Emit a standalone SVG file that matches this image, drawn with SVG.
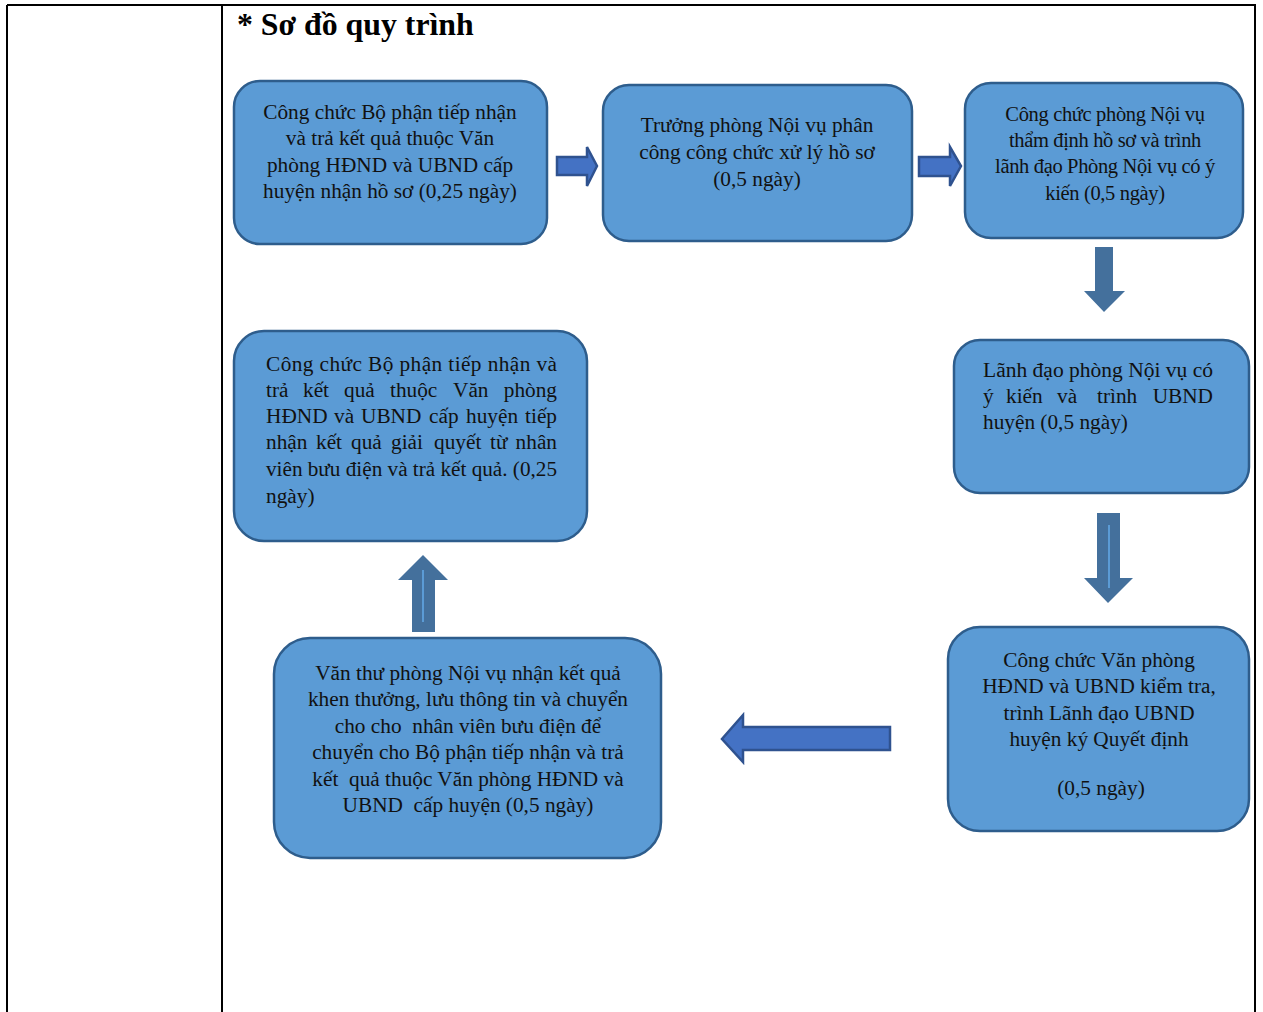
<svg xmlns="http://www.w3.org/2000/svg" width="1263" height="1012" viewBox="0 0 1263 1012">
<style>
.box{fill:#5b9bd5;stroke:#2e5d8c;stroke-width:2.5}
.t{font-family:"Liberation Serif","Times New Roman",serif;font-size:21.3px;fill:#111}
.c{text-anchor:middle}
.rarrow{fill:#4472c4;stroke:#2f528f;stroke-width:2.5}
.varrow{fill:#44709c}
.hl{stroke:#5b9bd5;stroke-width:2}
.grid{stroke:#000;stroke-width:2;fill:none}
</style>
<rect width="1263" height="1012" fill="#fff"/>
<g id="table">
<line class="grid" x1="7" y1="5" x2="1256" y2="5"/>
<line class="grid" x1="7" y1="5" x2="7" y2="1012"/>
<line class="grid" x1="222" y1="5" x2="222" y2="1012"/>
<line class="grid" x1="1255" y1="5" x2="1255" y2="1012"/>
</g>
<text x="237" y="35" font-family="Liberation Serif,serif" font-size="31.8" font-weight="bold">* Sơ đồ quy trình</text>
<g id="connectors">
<polygon class="rarrow" points="557,157 587,157 587,147 597,166 587,186 587,175 557,175"/>
<polygon class="rarrow" points="919,157 950,157 950,147 961,166 950,186 950,176 919,176"/>
<polygon class="varrow" points="1095,247 1113,247 1113,291 1125,291 1104,312 1084,291 1095,291"/>
<polygon class="varrow" points="1097,513 1120,513 1120,578 1133,578 1108,603 1084,578 1097,578"/>
<line class="hl" x1="1109" y1="525" x2="1109" y2="588"/>
<polygon class="varrow" points="412,632 435,632 435,580 448,580 423,555 398,580 412,580"/>
<line class="hl" x1="423" y1="570" x2="423" y2="622"/>
<polygon class="rarrow" points="890,727 743,727 743,715 722,739 743,762 743,750 890,750"/>
</g>
<g id="n1">
<rect class="box" x="234" y="81" width="313" height="163" rx="26"/>
<text class="t c"><tspan x="390" y="119">Công chức Bộ phận tiếp nhận</tspan><tspan x="390" y="145">và trả kết quả thuộc Văn</tspan><tspan x="390" y="172">phòng HĐND và UBND cấp</tspan><tspan x="390" y="198">huyện nhận hồ sơ (0,25 ngày)</tspan></text>
</g>
<g id="n2">
<rect class="box" x="603" y="85" width="309" height="156" rx="26"/>
<text class="t c"><tspan x="757" y="132">Trưởng phòng Nội vụ phân</tspan><tspan x="757" y="159">công công chức xử lý hồ sơ</tspan><tspan x="757" y="186">(0,5 ngày)</tspan></text>
</g>
<g id="n3">
<rect class="box" x="965" y="83" width="278" height="155" rx="26"/>
<text class="t c" style="font-size:20.5px" letter-spacing="-0.35"><tspan x="1105" y="121">Công chức phòng Nội vụ</tspan><tspan x="1105" y="147">thẩm định hồ sơ và trình</tspan><tspan x="1105" y="173">lãnh đạo Phòng Nội vụ có ý</tspan><tspan x="1105" y="200">kiến (0,5 ngày)</tspan></text>
</g>
<g id="n4">
<rect class="box" x="234" y="331" width="353" height="210" rx="30"/>
<text class="t"><tspan x="266" y="371" textLength="291" lengthAdjust="spacing">Công chức Bộ phận tiếp nhận và</tspan></text>
<text class="t"><tspan x="266" y="397">trả</tspan><tspan x="303" y="397">kết</tspan><tspan x="344" y="397">quả</tspan><tspan x="390" y="397">thuộc</tspan><tspan x="453" y="397">Văn</tspan><tspan x="557" y="397" text-anchor="end">phòng</tspan></text>
<text class="t"><tspan x="266" y="423">HĐND</tspan><tspan x="334" y="423">và</tspan><tspan x="361" y="423">UBND</tspan><tspan x="429" y="423">cấp</tspan><tspan x="466" y="423">huyện</tspan><tspan x="557" y="423" text-anchor="end">tiếp</tspan></text>
<text class="t"><tspan x="266" y="449">nhận</tspan><tspan x="316" y="449">kết</tspan><tspan x="351" y="449">quả</tspan><tspan x="391" y="449">giải</tspan><tspan x="434" y="449">quyết</tspan><tspan x="490" y="449">từ</tspan><tspan x="557" y="449" text-anchor="end">nhân</tspan></text>
<text class="t"><tspan x="266" y="476" textLength="291" lengthAdjust="spacingAndGlyphs">viên bưu điện và trả kết quả. (0,25</tspan><tspan x="266" y="503">ngày)</tspan></text>
</g>
<g id="n5">
<rect class="box" x="954" y="340" width="295" height="153" rx="26"/>
<text class="t"><tspan x="983" y="377" textLength="230" lengthAdjust="spacingAndGlyphs">Lãnh đạo phòng Nội vụ có</tspan></text>
<text class="t"><tspan x="983" y="403">ý</tspan><tspan x="1006" y="403">kiến</tspan><tspan x="1057" y="403">và</tspan><tspan x="1097" y="403">trình</tspan><tspan x="1213" y="403" text-anchor="end">UBND</tspan></text>
<text class="t"><tspan x="983" y="429">huyện (0,5 ngày)</tspan></text>
</g>
<g id="n6">
<rect class="box" x="948" y="627" width="301" height="204" rx="32"/>
<text class="t c"><tspan x="1099" y="667">Công chức Văn phòng</tspan><tspan x="1099" y="693">HĐND và UBND kiểm tra,</tspan><tspan x="1099" y="720">trình Lãnh đạo UBND</tspan><tspan x="1099" y="746">huyện ký Quyết định</tspan><tspan x="1101" y="795">(0,5 ngày)</tspan></text>
</g>
<g id="n7">
<rect class="box" x="274" y="638" width="387" height="220" rx="36"/>
<text class="t c" style="white-space:pre"><tspan x="468" y="680">Văn thư phòng Nội vụ nhận kết quả</tspan><tspan x="468" y="706">khen thưởng, lưu thông tin và chuyển</tspan><tspan x="468" y="733">cho cho  nhân viên bưu điện để</tspan><tspan x="468" y="759">chuyển cho Bộ phận tiếp nhận và trả</tspan><tspan x="468" y="786">kết  quả thuộc Văn phòng HĐND và</tspan><tspan x="468" y="812">UBND  cấp huyện (0,5 ngày)</tspan></text>
</g>
</svg>
